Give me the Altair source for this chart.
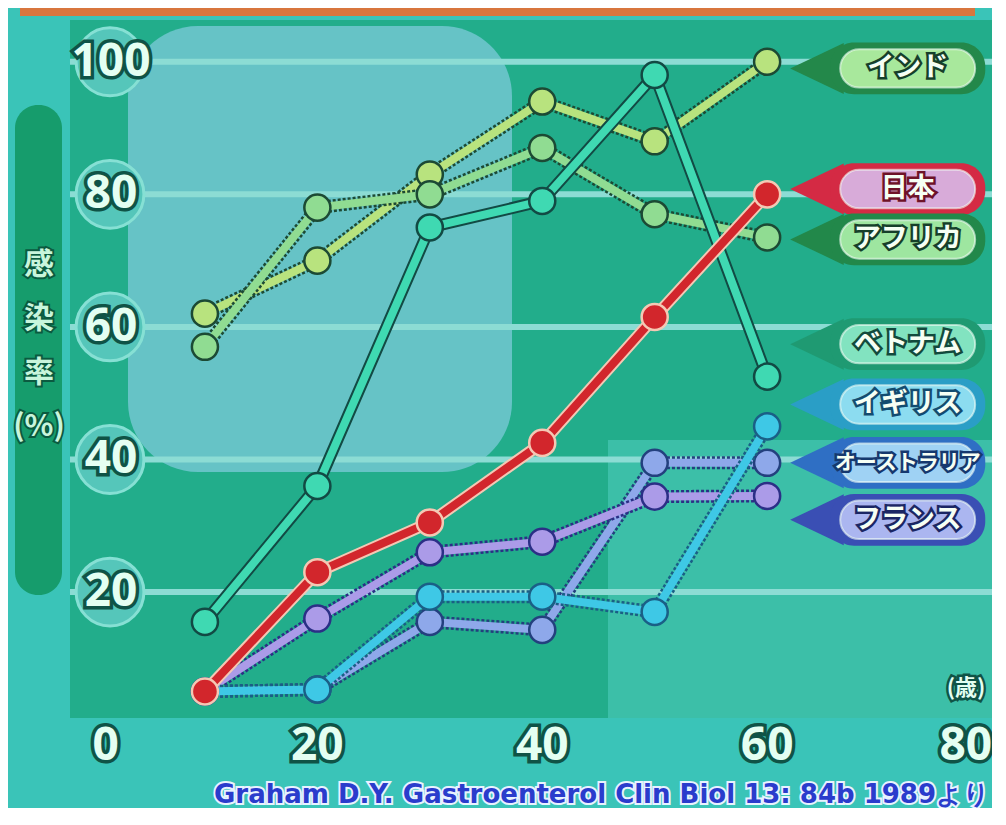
import altair as alt
import pandas as pd

# ---------------- data ----------------
ages = [10, 20, 30, 40, 50, 60]
india = [62, 70, 83, 94, 88, 100]
africa = [57, 78, 80, 87, 77, 73.5]
vietnam = [15.5, 36, 75, 79, 98, 52.5]
japan = [5, 23, 30.5, 42.5, 61.5, 80]
britain = [5, 5.3, 19.3, 19.3, 17, 45]
australia = [5, 5.3, 15.5, 14.3, 39.5, 39.5]
france = [5, 16, 26, 27.6, 34.4, 34.5]

countries = ["インド", "日本", "アフリカ", "ベトナム", "イギリス", "オーストラリア", "フランス"]
label_values = [99, 80.8, 73.2, 57.4, 48.3, 39.5, 30.9]
y_ticks = [20, 40, 60, 80, 100]
x_ticks = [0, 20, 40, 60, 80]
y_title = ["感", "染", "率", "(%)"]
x_unit = "(歳)"
source = "Graham D.Y. Gastroenterol Clin Biol 13: 84b 1989より"

series = {
    "インド": india, "日本": japan, "アフリカ": africa, "ベトナム": vietnam,
    "イギリス": britain, "オーストラリア": australia, "フランス": france,
}

# ---------------- styles ----------------
line_style = {
    "インド": dict(c="#b8e37e", edge="#1c4a34", dash=[3, 2]),
    "アフリカ": dict(c="#90dc92", edge="#1c4a34", dash=[3, 2]),
    "ベトナム": dict(c="#3fd9b2", edge="#124a44", dash=None),
    "オーストラリア": dict(c="#8ea8ea", edge="#23407e", dash=[3, 2]),
    "フランス": dict(c="#ab9be8", edge="#2b2f86", dash=[3, 2]),
    "イギリス": dict(c="#3ec8e6", edge="#1a5f86", dash=[3, 2]),
    "日本": dict(c="#d2262c", edge="#f4c8b4", dash=None),
}
draw_order = ["インド", "アフリカ", "ベトナム", "オーストラリア", "フランス", "イギリス", "日本"]
badge_style = {
    "インド": dict(outer="#23884a", pill="#a8e89c", edge="#163f2a", fs=27),
    "日本": dict(outer="#d42a44", pill="#d8abd9", edge="#6e1228", fs=27),
    "アフリカ": dict(outer="#22884a", pill="#9ee6a0", edge="#163f2a", fs=27),
    "ベトナム": dict(outer="#1f9a72", pill="#82e3c0", edge="#124a3c", fs=27),
    "イギリス": dict(outer="#2a9ec6", pill="#8cdcf0", edge="#134c70", fs=27),
    "オーストラリア": dict(outer="#2f6fc4", pill="#9fd2f4", edge="#15386e", fs=21),
    "フランス": dict(outer="#3a4fb4", pill="#abb6f0", edge="#1b2664", fs=27),
}

W, H = 922, 698
FONT = "Open Sans"
JFONT = "Noto Sans CJK JP"
XS = alt.Scale(domain=[-2, 80], nice=False, zero=False)
YS = alt.Scale(domain=[1, 106.3], nice=False, zero=False)


def X(f="age"):
    return alt.X(f + ":Q", scale=XS, axis=None)


def Y(f="v"):
    return alt.Y(f + ":Q", scale=YS, axis=None)


one = pd.DataFrame({"k": [0]})
layers = []

# decorative light panels of the TV graphic
layers.append(alt.Chart(one).mark_rect(color="#66c3c6", cornerRadius=70).encode(
    x=alt.value(58), x2=alt.value(442), y=alt.value(6), y2=alt.value(452)))
layers.append(alt.Chart(one).mark_rect(color="#3cbfa8").encode(
    x=alt.value(538), x2=alt.value(W), y=alt.value(420), y2=alt.value(H)))

# grid lines
grid_df = pd.DataFrame({"v": y_ticks})
layers.append(alt.Chart(grid_df).mark_rule(color="#8cdcd4", strokeWidth=6).encode(
    y=Y(), x=alt.value(0), x2=alt.value(W)))

# y tick labels in circles
layers.append(alt.Chart(grid_df).mark_circle(size=4600, color="#55c6ba", opacity=1,
                                             stroke="#86e0d4", strokeWidth=3).encode(
    y=Y(), x=alt.value(40)))
ylab = alt.Chart(grid_df).encode(y=Y(), x=alt.value(41), text=alt.Text("v:Q"))
layers.append(ylab.mark_text(font=FONT, fontSize=46, fontWeight="bold", fill="#0f5346",
                             stroke="#0f5346", strokeWidth=7))
layers.append(ylab.mark_text(font=FONT, fontSize=46, fontWeight="bold", fill="#e4fff2"))

# series lines
for name in draw_order:
    st = line_style[name]
    df = pd.DataFrame({"age": ages, "v": series[name]})
    base = alt.Chart(df).encode(x=X(), y=Y())
    if st["dash"]:
        under = base.mark_line(color=st["edge"], strokeWidth=13, strokeDash=st["dash"])
    else:
        under = base.mark_line(color=st["edge"], strokeWidth=12)
    layers.append(under)
    layers.append(base.mark_line(color=st["c"], strokeWidth=8))
    layers.append(base.mark_point(filled=True, fill=st["c"], stroke=st["edge"], strokeWidth=2.5,
                                  size=680, opacity=1, shape="circle"))

# label badges
for name, lv in zip(countries, label_values):
    bs = badge_style[name]
    bdf = pd.DataFrame({"v": [lv], "name": [name]})
    bdf["lo"] = bdf["v"] - 3.9
    bdf["hi"] = bdf["v"] + 3.9
    bdf["plo"] = bdf["v"] - 2.9
    bdf["phi"] = bdf["v"] + 2.9
    bdf["tip"] = 65.0
    bdf["ox0"] = 65.6
    bdf["ox1"] = 79.4
    bdf["px0"] = 66.5
    bdf["px1"] = 78.5
    bdf["tx"] = 72.5
    b = alt.Chart(bdf)
    layers.append(b.mark_point(filled=True, fill=bs["outer"], opacity=1, size=2600,
                               shape="M -1.3 0 L 0.8 -1 L 0.8 1 Z").encode(
        x=X("tip"), y=Y()))
    layers.append(b.mark_rect(fill=bs["outer"], cornerRadius=24).encode(
        x=X("ox0"), x2="ox1:Q", y=Y("lo"), y2="hi:Q"))
    layers.append(b.mark_rect(fill=bs["pill"], cornerRadius=19, stroke="#f4fff6",
                              strokeWidth=2, strokeOpacity=0.6).encode(
        x=X("px0"), x2="px1:Q", y=Y("plo"), y2="phi:Q"))
    t = b.encode(x=X("tx"), y=Y(), text="name:N")
    layers.append(t.mark_text(font=JFONT, fontSize=bs["fs"], fontWeight="bold", fill=bs["edge"],
                              stroke=bs["edge"], strokeWidth=5))
    layers.append(t.mark_text(font=JFONT, fontSize=bs["fs"], fontWeight="bold", fill="#f6fff4"))

# x tick labels below the plot
xdf = pd.DataFrame({"age": x_ticks})
for sel, al in [("datum.age == 0", "left"), ("datum.age > 0 && datum.age < 80", "center"),
                ("datum.age == 80", "right")]:
    xl = alt.Chart(xdf).transform_filter(sel).encode(x=X(), y=alt.value(H + 28), text="age:Q")
    layers.append(xl.mark_text(font=FONT, fontSize=46, fontWeight="bold", align=al,
                               baseline="middle", fill="#0f5346", stroke="#0f5346",
                               strokeWidth=7))
    layers.append(xl.mark_text(font=FONT, fontSize=46, fontWeight="bold", align=al,
                               baseline="middle", fill="#e4fff2"))

# unit label
udf = pd.DataFrame({"t": [x_unit]})
u = alt.Chart(udf).encode(x=alt.value(W - 26), y=alt.value(H - 30), text="t:N")
layers.append(u.mark_text(font=JFONT, fontSize=22, fontWeight="bold", fill="#0f5346",
                          stroke="#0f5346", strokeWidth=5))
layers.append(u.mark_text(font=JFONT, fontSize=22, fontWeight="bold", fill="#e4fff2"))

# y title bar
layers.append(alt.Chart(one).mark_rect(color="#169c6c", cornerRadius=23).encode(
    x=alt.value(-55), x2=alt.value(-8), y=alt.value(85), y2=alt.value(575)))
ytdf = pd.DataFrame({"t": y_title, "i": list(range(len(y_title)))})
ytdf["py"] = 245 + ytdf["i"] * 54
yt = alt.Chart(ytdf).encode(x=alt.value(-31), y=alt.Y("py:Q", scale=None, axis=None), text="t:N")
layers.append(yt.mark_text(font=JFONT, fontSize=30, fontWeight="bold", fill="#0b5a40",
                           stroke="#0b5a40", strokeWidth=4))
layers.append(yt.mark_text(font=JFONT, fontSize=30, fontWeight="bold", fill="#c8f5dc"))

# orange title bar strip at the top
layers.append(alt.Chart(one).mark_rect(color="#d8763e").encode(
    x=alt.value(-50), x2=alt.value(905), y=alt.value(-12), y2=alt.value(-4)))

# source citation
sdf = pd.DataFrame({"t": [source]})
s = alt.Chart(sdf).encode(x=alt.value(W - 2), y=alt.value(H + 85), text="t:N")
layers.append(s.mark_text(font="DejaVu Sans", fontSize=26, fontWeight="bold",
                          align="right", baseline="alphabetic", fill="#e8f2ff",
                          stroke="#e8f2ff", strokeWidth=4))
layers.append(s.mark_text(font="DejaVu Sans", fontSize=26, fontWeight="bold",
                          align="right", baseline="alphabetic", fill="#2a3ccc"))

chart = alt.layer(*layers).properties(
    width=W, height=H,
    autosize=alt.AutoSizeParams(type="none"),
    padding={"left": 62, "top": 12, "right": 0, "bottom": 90},
    background="#3ac4b8",
).resolve_scale(y="independent").configure_view(fill="#22ad8b", strokeWidth=0)

chart.save("out.html", embed_options={"renderer": "svg", "actions": False})
